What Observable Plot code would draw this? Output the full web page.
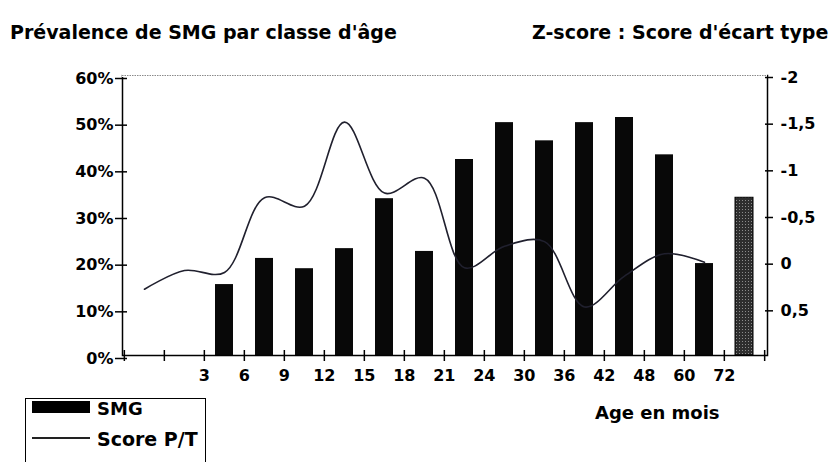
<!DOCTYPE html>
<html>
<head>
<meta charset="utf-8">
<script src="https://cdn.jsdelivr.net/npm/d3@7"></script>
<script src="https://cdn.jsdelivr.net/npm/@observablehq/plot@0.6"></script>
<style>
  html, body { margin: 0; padding: 0; background: #fff; }
  #wrap { position: relative; width: 834px; height: 462px; overflow: hidden; font-family: "DejaVu Sans", sans-serif; font-weight: bold; color: #000; }
  .t { position: absolute; white-space: nowrap; line-height: 1; }
</style>
</head>
<body>
<svg width="0" height="0" style="position:absolute">
  <defs>
    <pattern id="dots" width="3" height="3" patternUnits="userSpaceOnUse">
      <rect width="3" height="3" fill="#2e2e2e"></rect>
      <rect x="1" y="1" width="1" height="1" fill="#8c8c8c"></rect>
    </pattern>
  </defs>
</svg>
<div id="wrap">
  <div class="t" style="left:10px;top:23px;font-size:19px;">Prévalence de SMG par classe d'âge</div>
  <div class="t" style="left:532px;top:23px;font-size:19px;">Z-score : Score d'écart type</div>
  <div id="chart" style="position:absolute;left:0;top:55px;"></div>
  <div class="t" style="left:595px;top:404px;font-size:18px;">Age en mois</div>
  <div style="position:absolute;left:25px;top:398px;width:179px;height:80px;border:1.5px solid #000;border-bottom:none;">
    <div style="position:absolute;left:6px;top:2px;width:58px;height:12px;background:#000;"></div>
    <div class="t" style="left:71px;top:1px;font-size:18px;">SMG</div>
    <div style="position:absolute;left:6px;top:38px;width:58px;height:1.5px;background:#222;"></div>
    <div class="t" style="left:71px;top:31px;font-size:19px;">Score P/T</div>
  </div>
</div>
<script>
// Age-class labels written under the band boundaries (index = band)
const ageLabels = ["", "", "3", "6", "9", "12", "15", "18", "21", "24", "30", "36", "42", "48", "60", "72"];
// SMG prevalence (%) for the bars in bands 2..14
const smgBands = [2, 3, 4, 5, 6, 7, 8, 9, 10, 11, 12, 13, 14];
const smgValues = [15.2, 20.8, 18.6, 22.9, 33.6, 22.3, 42.0, 49.9, 46.0, 49.9, 51.0, 43.0, 19.7];
// Overall prevalence (grey bar) in band 15
const totalBand = [15];
const totalValue = [33.8];
// Weight-for-height Z-score (right axis), bands 0..14
const scoreBands = [0, 1, 2, 3, 4, 5, 6, 7, 8, 9, 10, 11, 12, 13, 14];
const scoreValues = [0.29, 0.09, 0.11, -0.69, -0.60, -1.50, -0.74, -0.90, 0.06, -0.17, -0.22, 0.48, 0.15, -0.09, 0.0];
// Axis ticks
const pctTicks = [0, 10, 20, 30, 40, 50, 60];
const zTicks = [-2, -1.5, -1, -0.5, 0, 0.5];

const W = 834, H = 335, ML = 122, MR = 67, MT = 20, MB = 35;
const step = (W - ML - MR) / ageLabels.length;

const bars = smgBands.map((b, k) => ({band: b, v: smgValues[k] / 100}));
const total = totalBand.map((b, k) => ({band: b, v: totalValue[k] / 100}));
const score = scoreBands.map((b, k) => ({band: b, z: scoreValues[k]}));
// Z-score -> left axis proportion: z=1 at 0%, z=-2 at 60%
const zToY = z => (1 - z) * 0.2;
const yToZ = y => 1 - y / 0.2;
const fmtZ = y => {
  const z = Math.round(yToZ(y) * 10) / 10;
  return (z < 0 ? "-" : "") + String(Math.abs(z)).replace(".", ",");
};

const chart = Plot.plot({
  width: W, height: H,
  marginLeft: ML, marginRight: MR, marginTop: MT, marginBottom: MB,
  style: {fontFamily: "DejaVu Sans", fontWeight: "bold", fontSize: "16px", color: "#000", background: "transparent", overflow: "visible"},
  x: {type: "band", domain: d3.range(ageLabels.length), paddingInner: 0.54, paddingOuter: 0.27, align: 0.5},
  y: {domain: [0, 0.6]},
  marks: [
    Plot.barY(bars, {x: "band", y: "v", fill: "#080808"}),
    Plot.barY(total, {x: "band", y: "v", fill: "url(#dots)", stroke: "#000", strokeWidth: 1}),
    Plot.line(score, {x: "band", y: d => zToY(d.z), curve: "catmull-rom", stroke: "#20202e", strokeWidth: 1.6}),
    Plot.frame({stroke: "#000", strokeWidth: 1.5}),
    Plot.ruleY([0.6], {stroke: "#fff", strokeWidth: 3}),
    Plot.ruleY([0.6], {stroke: "#8a8a8a", strokeWidth: 1, strokeDasharray: "1.5,1"}),
    Plot.axisY(pctTicks.map(p => p / 100), {anchor: "left", tickSize: 12, dx: 5, tickPadding: 2, dy: 3, strokeWidth: 1.5,
      tickFormat: d => Math.round(d * 100) + "%", label: null}),
    Plot.axisY(zTicks.map(zToY), {anchor: "right", tickSize: 8, dx: -3, tickPadding: 8, dy: 2, strokeWidth: 1.5,
      tickFormat: fmtZ, label: null}),
    Plot.axisX({tickSize: 11, dy: -5, dx: -step / 2, tickPadding: 8, strokeWidth: 1.5,
      tickFormat: i => ageLabels[i], label: null}),
    Plot.axisX([ageLabels.length - 1], {tickSize: 11, dy: -5, dx: step / 2, strokeWidth: 1.5,
      tickFormat: () => "", label: null})
  ]
});
document.getElementById("chart").appendChild(chart);
</script>
</body>
</html>
